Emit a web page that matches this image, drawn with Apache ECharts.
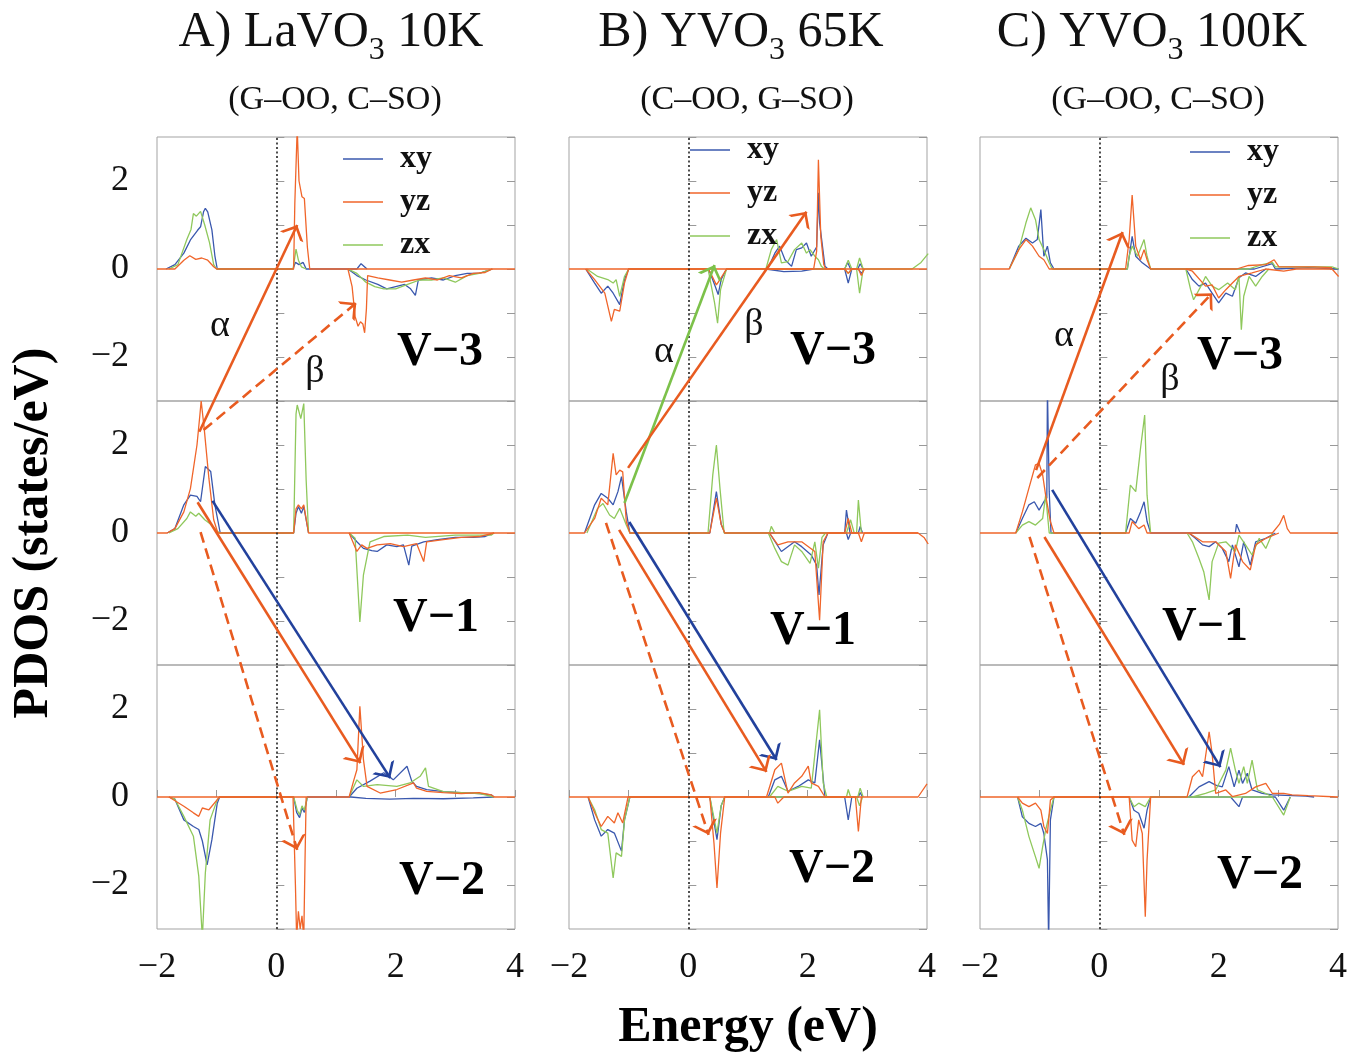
<!DOCTYPE html>
<html><head><meta charset="utf-8">
<script src="https://cdn.jsdelivr.net/npm/echarts@6/dist/echarts.min.js"></script>
<style>html,body{margin:0;padding:0;background:#fff}#c{width:1372px;height:1057px}</style>
</head><body><div id="c"></div>
<script>
// ---------- tick labels ----------
const ENERGY_TICKS = [-2, 0, 2, 4];
const PDOS_TICKS = [-2, 0, 2];
const ORBITALS = ['xy', 'yz', 'zx'];

// ---------- A) LaVO3 10K ----------
const A_V3_xy_up = [[-1.85,0],[-1.7,0.1],[-1.55,0.36],[-1.44,0.66],[-1.32,0.88],[-1.27,0.96],[-1.22,1.3],[-1.19,1.38],[-1.15,1.3],[-1.08,0.89],[-1.03,0.3],[-0.99,0],[0.28,0],[0.32,0.15],[0.38,0.1],[0.45,0.15],[0.5,0],[1.35,0],[1.42,0.12],[1.52,0]];
const A_V3_xy_dn = [[1.2,0],[1.35,-0.15],[1.5,-0.25],[1.7,-0.35],[1.85,-0.45],[2.0,-0.4],[2.15,-0.35],[2.25,-0.45],[2.33,-0.6],[2.38,-0.25],[2.6,-0.2],[2.8,-0.25],[3.0,-0.15],[3.2,-0.1],[3.4,-0.1],[3.62,0]];
const A_V3_yz_up = [[-2,0],[-1.7,0],[-1.55,0.2],[-1.45,0.3],[-1.35,0.22],[-1.25,0.25],[-1.15,0.2],[-1.05,0.05],[-1.0,0],[0.29,0],[0.31,1.5],[0.35,3.2],[0.38,2.0],[0.43,1.64],[0.47,1.6],[0.52,0.5],[0.56,0],[4,0]];
const A_V3_yz_dn = [[1.2,0],[1.27,-0.4],[1.32,-1.08],[1.37,-1.3],[1.41,-1.2],[1.45,-1.25],[1.48,-1.45],[1.51,-0.9],[1.53,-0.15],[1.7,-0.2],[1.9,-0.25],[2.1,-0.3],[2.3,-0.25],[2.5,-0.2],[2.7,-0.25],[2.9,-0.15],[3.1,-0.2],[3.3,-0.1],[3.5,-0.08],[3.62,0]];
const A_V3_zx_up = [[-1.8,0],[-1.65,0.1],[-1.5,0.67],[-1.43,0.9],[-1.39,1.26],[-1.34,1.2],[-1.27,1.31],[-1.2,1.0],[-1.12,0.6],[-1.05,0.1],[-1.0,0],[0.28,0],[0.33,0.45],[0.37,0.2],[0.42,0.05],[0.5,0]];
const A_V3_zx_dn = [[1.2,0],[1.35,-0.1],[1.5,-0.3],[1.65,-0.4],[1.8,-0.45],[2.0,-0.45],[2.2,-0.35],[2.4,-0.25],[2.6,-0.25],[2.8,-0.2],[3.0,-0.3],[3.2,-0.15],[3.4,-0.1],[3.62,0]];

const A_V1_xy_up = [[-1.83,0],[-1.7,0.1],[-1.55,0.64],[-1.44,0.86],[-1.33,0.83],[-1.27,0.71],[-1.19,1.51],[-1.1,1.4],[-1.03,0.64],[-0.94,0],[0.29,0],[0.33,0.45],[0.37,0.6],[0.42,0.45],[0.46,0.6],[0.54,0]];
const A_V1_xy_dn = [[1.22,0],[1.35,-0.2],[1.46,-0.35],[1.6,-0.4],[1.69,-0.42],[1.85,-0.27],[2.02,-0.31],[2.13,-0.27],[2.22,-0.73],[2.27,-0.3],[2.47,-0.2],[2.7,-0.15],[3.0,-0.1],[3.3,-0.1],[3.5,-0.08],[3.65,0]];
const A_V1_yz_up = [[-2,0],[-1.83,0],[-1.7,0.1],[-1.55,0.48],[-1.44,1.01],[-1.33,2.0],[-1.28,2.7],[-1.26,3.0],[-1.21,2.39],[-1.13,1.24],[-1.05,0.3],[-0.98,0],[0.29,0],[0.33,0.55],[0.37,0.64],[0.42,0.55],[0.46,0.64],[0.54,0],[4,0]];
const A_V1_yz_dn = [[1.22,0],[1.35,-0.42],[1.43,-0.27],[1.52,-0.35],[1.69,-0.27],[1.91,-0.24],[2.13,-0.31],[2.35,-0.24],[2.47,-0.65],[2.52,-0.2],[2.8,-0.15],[3.1,-0.1],[3.4,-0.08],[3.65,0]];
const A_V1_zx_up = [[-1.8,0],[-1.65,0.1],[-1.5,0.33],[-1.44,0.48],[-1.35,0.38],[-1.3,0.45],[-1.2,0.3],[-1.1,0.2],[-1.0,0.05],[-0.95,0],[0.29,0],[0.33,2.7],[0.35,2.91],[0.41,2.6],[0.46,2.94],[0.5,1.2],[0.54,0]];
const A_V1_zx_dn = [[1.22,0],[1.32,-0.12],[1.40,-2.02],[1.46,-0.95],[1.57,-0.2],[1.8,-0.08],[2.2,-0.05],[2.5,-0.1],[3.0,-0.05],[3.6,-0.05],[3.65,0]];

const A_V2_xy_up = [[1.22,0],[1.35,0.2],[1.57,0.36],[1.8,0.55],[1.96,0.39],[2.19,0.7],[2.27,0.36],[2.35,0.24],[2.52,0.17],[2.8,0.12],[3.1,0.1],[3.4,0.08],[3.6,0.05],[3.65,0]];
const A_V2_xy_dn = [[-1.8,0],[-1.7,-0.05],[-1.55,-0.52],[-1.39,-0.67],[-1.3,-0.74],[-1.24,-1.0],[-1.16,-1.54],[-1.08,-0.97],[-0.99,-0.14],[-0.95,0],[0.29,0],[0.34,-0.35],[0.39,-0.47],[0.43,-0.25],[0.47,-0.35],[0.52,0],[1.25,0],[1.5,-0.03],[1.9,-0.05],[2.3,-0.03],[2.8,-0.04],[3.3,-0.02],[3.65,0]];
const A_V2_yz_up = [[-2,0],[1.22,0],[1.3,0.39],[1.35,0.62],[1.4,2.06],[1.46,0.85],[1.52,0.24],[1.74,0.09],[2.02,0.17],[2.3,0.32],[2.35,0.2],[2.52,0.13],[2.8,0.1],[3.1,0.08],[3.4,0.1],[3.6,0.05],[3.65,0],[4,0]];
const A_V2_yz_dn = [[-1.8,0],[-1.55,-0.21],[-1.39,-0.36],[-1.3,-0.44],[-1.24,-0.25],[-1.13,-0.29],[-0.99,-0.06],[-0.95,0],[0.28,0],[0.32,-2.0],[0.34,-3.2],[0.37,-2.6],[0.4,-3.0],[0.43,-2.7],[0.46,-3.2],[0.48,-1.5],[0.5,0]];
const A_V2_zx_up = [[1.22,0],[1.35,0.39],[1.46,0.24],[1.69,0.28],[2.02,0.24],[2.24,0.32],[2.41,0.47],[2.5,0.66],[2.55,0.24],[2.8,0.12],[3.1,0.1],[3.4,0.08],[3.65,0]];
const A_V2_zx_dn = [[-1.8,0],[-1.7,-0.05],[-1.55,-0.44],[-1.39,-0.89],[-1.3,-1.8],[-1.24,-3.2],[-1.19,-1.73],[-1.11,-0.52],[-0.99,-0.06],[-0.95,0],[0.29,0],[0.35,-0.3],[0.39,-0.4],[0.43,-0.2],[0.47,-0.3],[0.52,0]];

// ---------- B) YVO3 65K ----------
const B_V3_xy_up = [[1.33,0],[1.45,0.36],[1.53,0.52],[1.62,0.21],[1.73,0.06],[1.81,0.44],[1.9,0.48],[1.98,0.59],[2.06,0.29],[2.15,0.5],[2.18,1.73],[2.2,1.05],[2.29,0.06],[2.34,0],[2.62,0],[2.67,0.15],[2.72,0],[2.84,0],[2.88,0.12],[2.93,0]];
const B_V3_xy_dn = [[-1.72,0],[-1.57,-0.32],[-1.46,-0.55],[-1.35,-0.39],[-1.26,-0.55],[-1.15,-0.81],[-1.07,-0.24],[-1.0,0],[0.34,0],[0.45,-0.39],[0.5,-0.58],[0.55,-0.24],[0.64,0],[1.3,0],[1.6,-0.06],[1.9,-0.05],[2.1,0],[2.62,0],[2.68,-0.32],[2.74,0],[2.85,0],[2.9,-0.1],[2.95,0]];
const B_V3_yz_up = [[-2,0],[2.1,0],[2.15,0.4],[2.18,2.48],[2.22,0.74],[2.27,0.1],[2.3,0],[4,0]];
const B_V3_yz_dn = [[-1.72,0],[-1.57,-0.24],[-1.4,-0.55],[-1.29,-1.19],[-1.24,-0.92],[-1.15,-0.96],[-1.07,-0.32],[-1.0,0],[0.34,0],[0.47,-0.36],[0.53,-0.24],[0.64,0],[2.62,0],[2.68,-0.1],[2.74,0],[2.85,0],[2.9,-0.15],[2.95,0]];
const B_V3_zx_up = [[1.3,0],[1.39,0.44],[1.48,0.67],[1.56,0.14],[1.67,0.17],[1.78,0.44],[1.9,0.59],[1.98,0.36],[2.04,0.44],[2.12,0.29],[2.18,0.21],[2.23,0.06],[2.28,0],[2.62,0],[2.68,0.2],[2.74,0],[2.82,0],[2.87,0.25],[2.93,0],[3.75,0],[3.9,0.15],[4.02,0.35]];
const B_V3_zx_dn = [[-1.7,0],[-1.52,-0.17],[-1.35,-0.24],[-1.26,-0.32],[-1.21,-0.24],[-1.15,-0.62],[-1.07,-0.17],[-1.0,0],[0.33,0],[0.44,-0.77],[0.49,-1.23],[0.54,-0.47],[0.64,0],[2.62,0],[2.68,-0.1],[2.74,0],[2.82,0],[2.87,-0.55],[2.93,0]];

const B_V1_xy_up = [[-1.74,0],[-1.57,0.64],[-1.46,0.9],[-1.35,0.79],[-1.26,0.64],[-1.18,0.94],[-1.12,1.28],[-1.04,0.48],[-0.98,0],[0.36,0],[0.47,0.94],[0.55,0.2],[0.61,0],[2.62,0],[2.65,0.52],[2.71,0],[2.85,0],[2.88,0.15],[2.92,0]];
const B_V1_xy_dn = [[1.36,0],[1.56,-0.42],[1.78,-0.2],[1.9,-0.31],[2.06,-0.5],[2.15,-0.73],[2.19,-1.41],[2.26,-0.27],[2.34,0],[2.65,0],[2.68,-0.15],[2.72,0]];
const B_V1_yz_up = [[-2,0],[-1.74,0],[-1.57,0.33],[-1.46,0.79],[-1.35,0.64],[-1.26,1.81],[-1.21,1.32],[-1.15,1.43],[-1.1,1.39],[-1.04,0.26],[-0.98,0],[0.36,0],[0.47,0.79],[0.55,0.2],[0.61,0],[2.62,0],[2.68,0.33],[2.74,0],[3.85,0]];
const B_V1_yz_dn = [[1.36,0],[1.5,-0.27],[1.67,-0.2],[1.9,-0.2],[2.12,-0.42],[2.2,-1.98],[2.26,-0.2],[2.34,0],[2.85,0],[2.9,-0.2],[2.95,0],[3.85,0],[3.95,-0.1],[4.02,-0.25]];
const B_V1_zx_up = [[-1.7,0],[-1.52,0.56],[-1.43,0.67],[-1.32,0.41],[-1.24,0.33],[-1.15,0.56],[-1.04,0.18],[-0.98,0],[0.33,0],[0.41,1.32],[0.47,2.0],[0.53,1.02],[0.6,0],[1.36,0],[1.39,0.15],[1.45,0],[2.65,0],[2.72,0.3],[2.78,0],[2.82,0],[2.85,0.75],[2.9,0]];
const B_V1_zx_dn = [[1.34,0],[1.45,-0.35],[1.56,-0.65],[1.67,-0.73],[1.78,-0.27],[1.9,-0.42],[2.04,-0.69],[2.12,-0.2],[2.18,-0.8],[2.24,-0.1],[2.3,0]];

const B_V2_xy_up = [[1.34,0],[1.45,0.39],[1.56,0.47],[1.67,0.13],[1.84,0.24],[2.01,0.39],[2.12,0.32],[2.2,1.3],[2.29,0],[2.85,0],[2.88,0.1],[2.92,0]];
const B_V2_xy_dn = [[-1.68,0],[-1.57,-0.52],[-1.46,-0.89],[-1.35,-0.74],[-1.24,-0.82],[-1.12,-1.23],[-1.07,-0.52],[-0.98,0],[0.36,0],[0.48,-0.97],[0.55,-0.2],[0.61,0],[2.62,0],[2.68,-0.52],[2.74,0]];
const B_V2_yz_up = [[-2,0],[1.31,0],[1.45,0.62],[1.56,0.77],[1.67,0.09],[1.78,0.32],[1.9,0.47],[2.01,0.7],[2.06,0.32],[2.18,0.24],[2.29,0],[3.85,0],[4,0.3]];
const B_V2_yz_dn = [[-1.68,0],[-1.57,-0.36],[-1.46,-0.67],[-1.35,-0.44],[-1.24,-0.59],[-1.18,-0.36],[-1.1,-0.59],[-1.01,0],[0.36,0],[0.43,-1.05],[0.48,-2.07],[0.54,-0.82],[0.61,0],[1.45,0],[1.5,-0.14],[1.6,0],[2.8,0],[2.85,-0.78],[2.9,0]];
const B_V2_zx_up = [[1.36,0],[1.5,0.24],[1.67,0.13],[1.9,0.24],[2.06,0.2],[2.2,1.98],[2.26,0.32],[2.32,0],[2.65,0],[2.68,0.17],[2.72,0],[2.84,0],[2.88,0.2],[2.93,0]];
const B_V2_zx_dn = [[-1.68,0],[-1.57,-0.29],[-1.46,-0.74],[-1.35,-0.82],[-1.26,-1.84],[-1.21,-1.27],[-1.12,-1.35],[-1.07,-0.52],[-0.98,0],[0.36,0],[0.48,-0.82],[0.55,-0.2],[0.61,0],[2.82,0],[2.87,-0.2],[2.92,0]];

// ---------- C) YVO3 100K ----------
const C_V3_xy_up = [[-1.51,0],[-1.35,0.52],[-1.23,0.7],[-1.12,0.59],[-1.04,0.67],[-0.98,1.35],[-0.93,0.29],[-0.87,0.52],[-0.82,0.14],[-0.76,0],[0.47,0],[0.55,0.74],[0.61,0.29],[0.72,0.14],[0.86,0],[2.6,0],[2.9,0.12],[2.95,0],[3.5,0.03],[4.01,0]];
const C_V3_xy_dn = [[1.45,0],[1.56,-0.24],[1.67,-0.39],[1.78,-0.32],[1.89,-0.55],[2.0,-0.77],[2.12,-0.55],[2.23,-0.62],[2.34,-0.2],[2.45,-0.09],[2.62,-0.17],[2.79,0]];
const C_V3_yz_up = [[-2,0],[-1.51,0],[-1.35,0.44],[-1.23,0.67],[-1.12,0.52],[-1.01,0.29],[-0.93,0.21],[-0.84,0],[0.44,0],[0.5,0.67],[0.55,1.68],[0.61,0.52],[0.69,0.21],[0.75,0.44],[0.8,0.21],[0.86,0],[2.3,0],[2.5,0.08],[2.79,0.1],[2.93,0.21],[3.01,0.05],[3.2,0.05],[3.6,0.05],[3.9,0.03]];
const C_V3_yz_dn = [[1.45,0],[1.56,-0.05],[1.78,-0.39],[1.89,-0.36],[2.0,-0.66],[2.12,-0.47],[2.23,-0.32],[2.34,-0.17],[2.56,-0.09],[2.79,0],[3.09,-0.05],[3.3,0],[3.9,0],[4.01,-0.17]];
const C_V3_zx_up = [[-1.51,0],[-1.35,0.44],[-1.23,1.05],[-1.15,1.39],[-1.07,1.12],[-1.01,0.67],[-0.93,0.44],[-0.84,0.14],[-0.79,0],[0.47,0],[0.5,0.29],[0.55,0.52],[0.64,0.29],[0.75,0.67],[0.8,0.29],[0.86,0],[2.5,0],[2.73,0.1],[2.9,0.15],[2.95,0.05],[3.1,0.05],[3.5,0.05],[3.9,0.05],[4.01,0]];
const C_V3_zx_dn = [[1.45,0],[1.53,-0.47],[1.58,-0.7],[1.73,-0.32],[1.78,-0.17],[1.89,-0.39],[2.0,-0.47],[2.15,-0.32],[2.28,-0.47],[2.34,-0.17],[2.38,-1.38],[2.42,-0.62],[2.51,-0.17],[2.62,-0.39],[2.73,-0.17],[2.84,0]];

const C_V1_xy_up = [[-1.4,0],[-1.29,0.33],[-1.18,0.64],[-1.09,0.71],[-1.01,0.52],[-0.93,0.71],[-0.88,0.8],[-0.87,3.3],[-0.85,3.3],[-0.84,0.94],[-0.81,0],[0.44,0],[0.52,0.33],[0.61,0.22],[0.69,0.48],[0.75,0.71],[0.8,0.26],[0.86,0],[2.28,0],[2.3,0.2],[2.36,0]];
const C_V1_xy_dn = [[1.5,0],[1.61,-0.12],[1.73,-0.27],[1.84,-0.31],[1.95,-0.2],[2.06,-0.35],[2.17,-0.65],[2.23,-0.27],[2.34,-0.77],[2.42,-0.2],[2.53,-0.73],[2.62,-0.2],[2.79,-0.12],[2.95,0]];
const C_V1_yz_up = [[-2,0],[-1.4,0],[-1.29,0.48],[-1.18,1.02],[-1.07,1.55],[-1.01,1.58],[-0.95,1.32],[-0.9,0.86],[-0.82,0.26],[-0.76,0],[0.5,0],[0.55,0.26],[0.66,0.1],[0.75,0.18],[0.8,0],[2.9,0],[3.02,0.2],[3.09,0.4],[3.15,0.1],[3.2,0],[4,0]];
const C_V1_yz_dn = [[1.5,0],[1.73,-0.2],[1.95,-0.2],[2.12,-0.42],[2.2,-1.03],[2.28,-0.27],[2.4,-0.65],[2.53,-0.84],[2.62,-0.27],[2.79,-0.12],[3.01,0]];
const C_V1_zx_up = [[-1.4,0],[-1.29,0.18],[-1.18,0.26],[-1.07,0.18],[-0.95,0.33],[-0.9,0.86],[-0.84,0],[0.44,0],[0.52,1.09],[0.61,0.94],[0.69,1.92],[0.76,2.68],[0.8,0.86],[0.86,0]];
const C_V1_zx_dn = [[1.47,0],[1.56,-0.2],[1.67,-0.58],[1.75,-0.88],[1.84,-1.52],[1.89,-0.65],[2.0,-0.23],[2.12,-0.2],[2.28,-0.42],[2.34,-0.05],[2.45,-0.27],[2.56,-0.5],[2.68,-0.12],[2.79,-0.35],[2.9,0]];

const C_V2_xy_up = [[1.5,0],[1.67,0.23],[1.84,0.35],[1.95,0.27],[2.06,0.23],[2.17,0.69],[2.26,0.23],[2.34,0.61],[2.4,0.31],[2.48,0.54],[2.56,0.16],[2.73,0.08],[2.9,0.05],[3.46,0.02],[3.6,0]];
const C_V2_xy_dn = [[-1.37,0],[-1.29,-0.45],[-1.18,-0.6],[-1.07,-0.67],[-0.98,-0.6],[-0.93,-0.83],[-0.87,-1.43],[-0.85,-3.3],[-0.82,-0.52],[-0.76,0],[0.5,0],[0.58,-0.3],[0.66,-0.37],[0.75,-0.71],[0.8,-0.3],[0.86,0],[2.2,0],[2.34,-0.22],[2.4,0],[2.95,0],[3.09,-0.3],[3.2,0]];
const C_V2_yz_up = [[-2,0],[1.47,0],[1.56,0.46],[1.67,0.61],[1.73,0.46],[1.78,0.92],[1.84,1.48],[1.89,0.99],[1.95,0.08],[2.12,0.16],[2.23,0.01],[2.45,0.08],[2.62,0.23],[2.79,0.31],[2.9,0.08],[3.09,0.08],[3.23,0.05],[3.5,0.03],[4,0]];
const C_V2_yz_dn = [[-1.37,0],[-1.29,-0.14],[-1.18,-0.22],[-1.07,-0.14],[-0.98,-0.3],[-0.93,-0.67],[-0.87,-0.83],[-0.82,-0.07],[-0.76,0],[0.5,0],[0.55,-0.98],[0.61,-1.13],[0.66,-0.52],[0.72,-0.83],[0.77,-2.72],[0.8,-1.43],[0.86,0]];
const C_V2_zx_up = [[1.56,0],[1.78,0.08],[1.95,0.16],[2.12,0.61],[2.2,1.11],[2.28,0.61],[2.34,0.31],[2.42,0.69],[2.48,0.31],[2.56,0.84],[2.65,0.16],[2.79,0.08],[2.9,0]];
const C_V2_zx_dn = [[-1.37,0],[-1.29,-0.3],[-1.18,-0.9],[-1.07,-1.36],[-1.01,-1.62],[-0.95,-1.13],[-0.9,-0.75],[-0.82,-0.3],[-0.76,0],[0.5,0],[0.58,-0.22],[0.66,-0.14],[0.77,-0.22],[0.86,0],[2.9,0],[3.09,-0.41],[3.2,0]];

// ---------- transition arrows: [E1, y1, E2, y2] in column coords (rows stacked, V-1 centre = 0, step 6) ----------
const ARROWS_A = [[-1.29,2.30,0.35,7.0],[-1.22,2.34,1.34,5.23],[-1.07,0.73,1.91,-5.57],[-1.32,0.70,1.41,-5.23],[-1.27,0.02,0.35,-7.20]];
const ARROWS_B = [[-1.07,0.68,0.44,6.09],[-1.01,1.48,1.98,7.30],[-0.99,0.25,1.48,-5.16],[-1.16,0.07,1.31,-5.43],[-1.38,0.23,0.34,-6.86]];
const ARROWS_C = [[-1.06,1.43,0.39,6.84],[-1.04,1.25,1.89,5.45],[-0.79,0.98,2.03,-5.32],[-0.92,-0.09,1.42,-5.27],[-1.17,-0.09,0.42,-6.86]];
const ARROW_ORB_A = ['yz','yz','xy','yz','yz'];
const ARROW_ORB_B = ['zx','yz','xy','yz','yz'];
const ARROW_ORB_C = ['yz','yz','xy','yz','yz'];
const ARROW_DASH_A = [false,true,false,false,true];
const ARROW_DASH_B = [false,false,false,false,true];
const ARROW_DASH_C = [false,true,false,false,true];

// ---------- text ----------
const TITLE_HEAD = ['A) LaVO', 'B) YVO', 'C) YVO'];
const TITLE_TAIL = [' 10K', ' 65K', ' 100K'];
const ORDER_TEXT = ['(G\u2013OO, C\u2013SO)', '(C\u2013OO, G\u2013SO)', '(G\u2013OO, C\u2013SO)'];
const SITE_LABELS = ['V\u22123', 'V\u22121', 'V\u22122'];

// ================= layout / style =================
const FONT = '"Liberation Serif","Times New Roman",Times,serif';
const LINE_COLOR = {xy: '#3a58ae', yz: '#f0652a', zx: '#8fc85c'};
const ARROW_COLOR = {xy: '#22419c', yz: '#e85b20', zx: '#7cc14a'};
const COL_LEFT = [157, 569, 980];
const COL_W = 358;
const ROW_TOP = [137, 401, 665];
const ROW_H = 264;
const FRAME = '#a3a3a3';

const DATA = {
  A: {V3: {xy:[A_V3_xy_up,A_V3_xy_dn], yz:[A_V3_yz_up,A_V3_yz_dn], zx:[A_V3_zx_up,A_V3_zx_dn]},
      V1: {xy:[A_V1_xy_up,A_V1_xy_dn], yz:[A_V1_yz_up,A_V1_yz_dn], zx:[A_V1_zx_up,A_V1_zx_dn]},
      V2: {xy:[A_V2_xy_up,A_V2_xy_dn], yz:[A_V2_yz_up,A_V2_yz_dn], zx:[A_V2_zx_up,A_V2_zx_dn]}},
  B: {V3: {xy:[B_V3_xy_up,B_V3_xy_dn], yz:[B_V3_yz_up,B_V3_yz_dn], zx:[B_V3_zx_up,B_V3_zx_dn]},
      V1: {xy:[B_V1_xy_up,B_V1_xy_dn], yz:[B_V1_yz_up,B_V1_yz_dn], zx:[B_V1_zx_up,B_V1_zx_dn]},
      V2: {xy:[B_V2_xy_up,B_V2_xy_dn], yz:[B_V2_yz_up,B_V2_yz_dn], zx:[B_V2_zx_up,B_V2_zx_dn]}},
  C: {V3: {xy:[C_V3_xy_up,C_V3_xy_dn], yz:[C_V3_yz_up,C_V3_yz_dn], zx:[C_V3_zx_up,C_V3_zx_dn]},
      V1: {xy:[C_V1_xy_up,C_V1_xy_dn], yz:[C_V1_yz_up,C_V1_yz_dn], zx:[C_V1_zx_up,C_V1_zx_dn]},
      V2: {xy:[C_V2_xy_up,C_V2_xy_dn], yz:[C_V2_yz_up,C_V2_yz_dn], zx:[C_V2_zx_up,C_V2_zx_dn]}}
};
const ARROWS = [[ARROWS_A, ARROW_ORB_A, ARROW_DASH_A],[ARROWS_B, ARROW_ORB_B, ARROW_DASH_B],[ARROWS_C, ARROW_ORB_C, ARROW_DASH_C]];

function fmtNum(v) { return v < 0 ? '\u2212' + Math.abs(v) : String(v); }

const COLS = ['A','B','C'];
const ROWS = ['V3','V1','V2'];
const DRAW_ORDER = ['xy','zx','yz'];

const grids = [], xAxes = [], yAxes = [], series = [];

COLS.forEach((c, ci) => {
  ROWS.forEach((r, ri) => {
    const g = ci * 3 + ri;
    grids.push({left: COL_LEFT[ci], top: ROW_TOP[ri], width: COL_W, height: ROW_H,
      show: true, borderColor: FRAME, borderWidth: 1, backgroundColor: 'transparent'});
    const bottomRow = ri === 2;
    xAxes.push({
      gridIndex: g, type: 'value', min: -2, max: 4, interval: 1,
      axisLine: {show: false}, splitLine: {show: false},
      axisTick: {show: bottomRow, inside: true, length: 7, lineStyle: {color: '#999', width: 1}},
      axisLabel: {show: bottomRow, margin: 21, fontFamily: FONT, fontSize: 36, color: '#111',
        formatter: v => ENERGY_TICKS.includes(v) ? fmtNum(v) : ''},
      name: (bottomRow && ci === 1) ? 'Energy (eV)' : '',
      nameLocation: 'middle', nameGap: 74,
      nameTextStyle: {fontFamily: FONT, fontSize: 50, fontWeight: 'bold', color: '#000'}
    });
    yAxes.push({
      gridIndex: g, type: 'value', min: -3, max: 3, interval: 1, position: 'left',
      axisLine: {show: false}, splitLine: {show: false},
      axisTick: {show: true, inside: true, length: 8, lineStyle: {color: '#999', width: 1}},
      axisLabel: {show: ci === 0, margin: 28, fontFamily: FONT, fontSize: 36, color: '#111',
        formatter: v => PDOS_TICKS.includes(v) ? fmtNum(v) : ''},
      name: (ci === 0 && ri === 1) ? 'PDOS (states/eV)' : '',
      nameLocation: 'middle', nameGap: 98, nameRotate: 90,
      nameTextStyle: {fontFamily: FONT, fontSize: 50, fontWeight: 'bold', color: '#000'}
    });
    yAxes.push({
      gridIndex: g, type: 'value', min: -3, max: 3, interval: 1, position: 'right',
      axisLine: {show: false}, splitLine: {show: false}, axisLabel: {show: false},
      axisTick: {show: true, inside: true, length: 8, lineStyle: {color: '#999', width: 1}}
    });
    let first = true;
    DRAW_ORDER.forEach(o => {
      DATA[c][r][o].forEach(arr => {
        const s = {
          type: 'line', name: o, xAxisIndex: g, yAxisIndex: 2 * g, data: arr,
          symbol: 'none', showSymbol: false, clip: true, z: 3, silent: true,
          lineStyle: {width: 1.3, color: LINE_COLOR[o]}, itemStyle: {color: LINE_COLOR[o]}
        };
        if (first) {
          s.markLine = {silent: true, symbol: ['none','none'], label: {show: false},
            lineStyle: {color: '#222', type: [2, 2.5], width: 1.6}, data: [{xAxis: 0}], animation: false};
          first = false;
        }
        series.push(s);
      });
    });
  });
});

// overlay grids for the transition arrows (column-wide coordinates)
const ARROW_HEAD = 'path://M10,4 L10.01,4 Z M10,20 L20,36 L17.2,36 L10,24.6 L2.8,36 L0,36 Z';
COLS.forEach((c, ci) => {
  const g = 9 + ci;
  grids.push({left: COL_LEFT[ci], top: ROW_TOP[0], width: COL_W, height: ROW_H * 3, show: false});
  xAxes.push({gridIndex: g, type: 'value', min: -2, max: 4, show: false});
  yAxes.push({gridIndex: g, type: 'value', min: -9, max: 9, show: false});
  const [coords, orbs, dash] = ARROWS[ci];
  series.push({
    type: 'lines', coordinateSystem: 'cartesian2d', xAxisIndex: g, yAxisIndex: 18 + ci,
    z: 10, silent: true, symbol: ['none', ARROW_HEAD], symbolSize: [16, 26],
    data: coords.map((a, i) => ({
      coords: [[a[0], a[1]], [a[2], a[3]]],
      lineStyle: {color: ARROW_COLOR[orbs[i]], width: 2.6, type: dash[i] ? [11, 6] : 'solid', opacity: 1}
    })),
    lineStyle: {width: 2.6, opacity: 1, curveness: 0}
  });
});

// legends in the top panels
const LEGEND_POS = [[343, 143], [690, 134], [1190, 136]];
const legends = LEGEND_POS.map(p => ({
  data: ORBITALS, orient: 'vertical', left: p[0], top: p[1], padding: 0,
  icon: 'rect', itemWidth: 40, itemHeight: 1.6, itemGap: 11, selectedMode: false,
  textStyle: {fontFamily: FONT, fontSize: 32, fontWeight: 'bold', color: '#111', lineHeight: 32, padding: [0,0,0,12]}
}));

// text graphics
const TITLE_X = [331, 741, 1152];
const ORDER_X = [335, 747, 1158];
const SITE_POS = [
  [[440,353],[436,619],[442,882]],
  [[833,352],[813,632],[832,870]],
  [[1240,357],[1205,628],[1260,876]]
];
const GREEK_POS = [
  [[220,326],[315,372]],
  [[664,352],[754,325]],
  [[1064,336],[1170,380]]
];
const graphics = [];
COLS.forEach((c, ci) => {
  graphics.push({type: 'text', x: TITLE_X[ci], y: 3, z: 20, style: {
    text: '{a|' + TITLE_HEAD[ci] + '}{s|3}{a|' + TITLE_TAIL[ci] + '}',
    align: 'center', textAlign: 'center', verticalAlign: 'top', textVerticalAlign: 'top',
    rich: {a: {fontFamily: FONT, fontSize: 50, lineHeight: 60, fill: '#111', color: '#111'},
           s: {fontFamily: FONT, fontSize: 32, lineHeight: 32, padding: [36,0,0,0], fill: '#111', color: '#111'}}
  }});
  graphics.push({type: 'text', x: ORDER_X[ci], y: 100, z: 20, style: {
    text: ORDER_TEXT[ci], font: '34px ' + FONT, fill: '#111',
    align: 'center', textAlign: 'center', verticalAlign: 'middle', textVerticalAlign: 'middle'}});
  SITE_LABELS.forEach((t, ri) => {
    graphics.push({type: 'text', x: SITE_POS[ci][ri][0], y: SITE_POS[ci][ri][1], z: 20, style: {
      text: t, font: 'bold 48px ' + FONT, fill: '#000',
      align: 'center', textAlign: 'center', verticalAlign: 'middle', textVerticalAlign: 'middle'}});
  });
  ['\u03b1','\u03b2'].forEach((t, k) => {
    graphics.push({type: 'text', x: GREEK_POS[ci][k][0], y: GREEK_POS[ci][k][1], z: 20, style: {
      text: t, font: '38px ' + FONT, fill: '#111',
      align: 'center', textAlign: 'center', verticalAlign: 'middle', textVerticalAlign: 'middle'}});
  });
});

const chart = echarts.init(document.getElementById('c'), null, {renderer: 'canvas'});
chart.setOption({
  animation: false,
  backgroundColor: '#fff',
  grid: grids, xAxis: xAxes, yAxis: yAxes,
  legend: legends,
  series: series,
  graphic: {elements: graphics}
});
</script>
</body></html>
